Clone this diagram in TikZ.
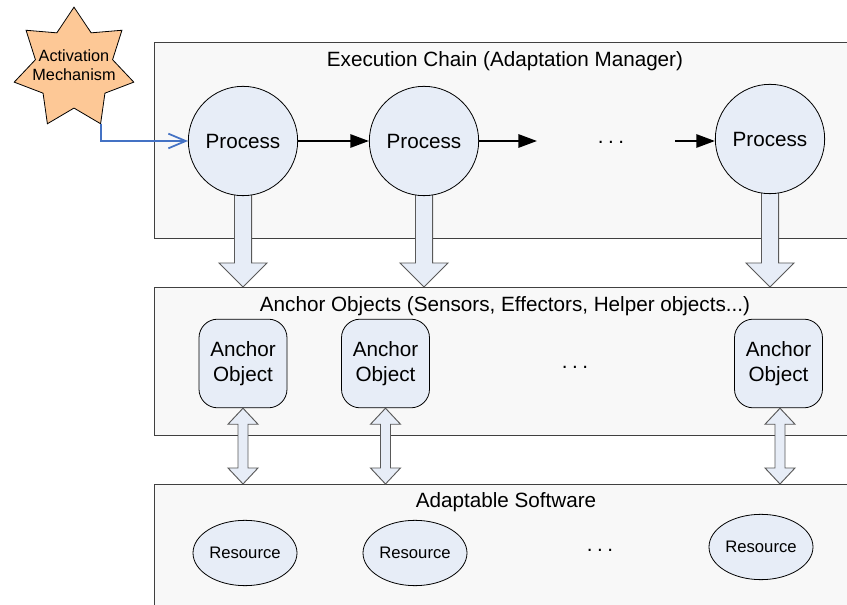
\documentclass[tikz,border=0pt]{standalone}
\usepackage{fontspec}
\setmainfont{Liberation Sans}
\usetikzlibrary{shapes.geometric,arrows.meta,calc}
\pgfdeclarelayer{boxlayer}
\pgfdeclarelayer{arrowlayer}
\pgfsetlayers{boxlayer,arrowlayer,main}
\definecolor{framefill}{HTML}{F8F8F8}
\definecolor{nodefill}{HTML}{E7EDF7}
\definecolor{starfill}{HTML}{FDC896}
\definecolor{connblue}{HTML}{4472C4}
\newcommand\dgbig{\fontsize{15.5}{18.7}\selectfont}
\newcommand\dgres{\fontsize{12.5}{15}\selectfont}
\newcommand\dgstar{\fontsize{12.2}{14.3}\selectfont}
\newcommand\dgdots{.\hspace{3.4pt}.\hspace{3.4pt}.}
% block arrow pointing down: #1 start, #2 tip
\newcommand\blockdown[2]{%
  \draw[blockarr] let \p1=(#1), \p2=(#2) in
    (\x1-6.4pt,\y1) -- (\x1-6.4pt,\y2+18pt) -- (\x1-18pt,\y2+18pt) -- (\x1,\y2)
    -- (\x1+18pt,\y2+18pt) -- (\x1+6.4pt,\y2+18pt) -- (\x1+6.4pt,\y1) -- cycle;}
% double block arrow: #1 top tip, #2 bottom tip
\newcommand\blockboth[2]{%
  \draw[blockarr] let \p1=(#1), \p2=(#2) in
    (\x1,\y1) -- (\x1+11.25pt,\y1-12pt) -- (\x1+3.75pt,\y1-12pt) -- (\x1+3.75pt,\y2+12pt)
    -- (\x1+11.25pt,\y2+12pt) -- (\x1,\y2) -- (\x1-11.25pt,\y2+12pt) -- (\x1-3.75pt,\y2+12pt)
    -- (\x1-3.75pt,\y1-12pt) -- (\x1-11.25pt,\y1-12pt) -- cycle;}
\begin{document}
\begin{tikzpicture}[x=0.75pt,y=-0.75pt,
  frame/.style={draw=black!75,line width=0.8pt,fill=framefill,anchor=north west,inner sep=0},
  bigtxt/.style={font=\dgbig,inner sep=0},
  proc/.style={circle,draw=black,line width=0.6pt,fill=nodefill,minimum size=82pt,inner sep=0,font=\dgbig},
  anch/.style={rectangle,rounded corners=14pt,draw=black,line width=0.6pt,fill=nodefill,
    minimum width=66pt,minimum height=66.5pt,inner sep=0,align=center,font=\dgbig},
  res/.style={ellipse,draw=black,line width=0.6pt,fill=nodefill,minimum width=78pt,
    minimum height=49pt,inner sep=0,font=\dgres},
  flow/.style={line width=1.5pt,-{Triangle[length=14pt,width=10pt]}},
  blueconn/.style={draw=connblue,line width=1.3pt,-{Straight Barb[length=13pt,width=11pt,line width=1.3pt]}},
  blockarr/.style={draw=black!65,line width=0.7pt,fill=nodefill}]
\useasboundingbox (0,0) rectangle (847,605);

% frames
\begin{pgfonlayer}{boxlayer}
  \begin{scope}
    \clip (0,0) rectangle (847,605);
    \node[frame,minimum width=537pt,minimum height=147pt] (ec) at (154,42) {};
    \node[frame,minimum width=537pt,minimum height=111pt] (ao) at (154,287) {};
    \node[frame,minimum width=537pt,minimum height=100pt] (as) at (154,484) {};
  \end{scope}
\end{pgfonlayer}

% titles
\node[bigtxt] (ectitle) at (505,61) {Execution Chain (Adaptation Manager)};
\node[bigtxt] (aotitle) at (505,306) {Anchor Objects (Sensors, Effectors, Helper objects...)};
\node[bigtxt] (astitle) at (506,502) {Adaptable Software};

% activation star
\node[star,star points=7,star point ratio=1.55,minimum size=92pt,inner sep=0,
  draw=black,line width=0.6pt,fill=starfill] (am) at (74,68.5) {};
\node[font=\dgstar,align=center,inner sep=0] (amtxt) at (74,65.5) {Activation\\Mechanism};

% processes
\node[proc] (p1) at (243,141) {Process};
\node[proc] (p2) at (424,141) {Process};
\node[proc] (p3) at (770,139) {Process};
\node[bigtxt,anchor=base] (pd) at (611,144) {\dgdots};
\coordinate (c1) at (537,141);
\coordinate (c2) at (675,141);
\draw[flow] (p1) -- (p2);
\draw[flow] (p2) -- (c1);
\draw[flow] (c2) -- (c2 -| p3.west);
\draw[blueconn] (am.-64.2857) |- (p1);

% anchor objects
\node[anch] (a1) at (243,363.5) {Anchor\\Object};
\node[anch] (a2) at (385.5,363.5) {Anchor\\Object};
\node[anch] (a3) at (778.5,363.5) {Anchor\\Object};
\node[bigtxt,anchor=base] (ad) at (575,369) {\dgdots};

% resources
\node[res] (r1) at (245,553) {Resource};
\node[res] (r2) at (415,553) {Resource};
\node[res] (r3) at (761,547) {Resource};
\node[bigtxt,anchor=base] (rd) at (600,552) {\dgdots};

% block arrows
\begin{pgfonlayer}{arrowlayer}
  \blockdown{$(p1.south)+(0,-4)$}{p1.south |- ao.north}
  \blockdown{$(p2.south)+(0,-4)$}{p2.south |- ao.north}
  \blockdown{$(p3.south)+(0,-4)$}{p3.south |- ao.north}
  \blockboth{a1.south}{a1.south |- as.north}
  \blockboth{a2.south}{a2.south |- as.north}
  \blockboth{$(a3.south)+(1.5,0)$}{$(a3.south |- as.north)+(1.5,0)$}
\end{pgfonlayer}
\end{tikzpicture}
\end{document}
